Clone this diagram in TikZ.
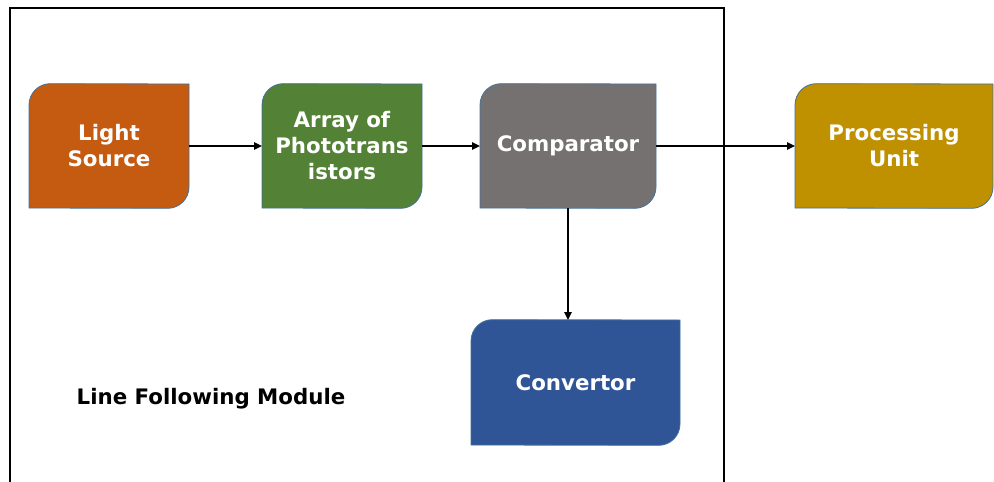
\documentclass[tikz,border=0pt]{standalone}
\usepackage{fontspec}
\setmainfont{DejaVu Sans}
\definecolor{SourceOrange}{HTML}{C55A11}
\definecolor{ArrayGreen}{HTML}{538135}
\definecolor{CompGray}{HTML}{767171}
\definecolor{ConvBlue}{HTML}{2F5597}
\definecolor{UnitGold}{HTML}{BF9000}
\definecolor{EdgeBlue}{HTML}{41719C}
\usetikzlibrary{arrows.meta,positioning,calc}
\pgfdeclarelayer{background}
\pgfsetlayers{background,main}

\tikzset{
  blockbox/.style={minimum height=93pt,inner sep=0pt,outer sep=0pt,
    text=white,align=center,font=\bfseries\fontsize{16}{19.5}\selectfont},
  link/.style={line width=1.4pt,-{Triangle[length=6pt,width=5.5pt]}}
}

\begin{document}
\begin{tikzpicture}[x=0.75pt,y=-0.75pt]
      \useasboundingbox (0,0) rectangle (994,481);
      \draw[line width=1.8pt] (10,500) -- (10,8) -- (724,8) -- (724,500);
      \node[blockbox,minimum width=120pt] (light) at (109,146) {Light\\Source};
      \node[blockbox,minimum width=120pt] (array) at (342,146) {Array of\\Phototrans\\istors};
      \node[blockbox,minimum width=132pt] (comp) at (568,146) {Comparator};
      \node[blockbox,minimum width=148.5pt] (unit) at (894,146) {Processing\\Unit};
      \node[blockbox,minimum width=156.75pt,minimum height=93.75pt] (conv) at (575.5,382.5) {Convertor};
      \node[font=\bfseries\fontsize{16}{19.5}\selectfont] (module) at (211,399) {Line Following Module};
      % block shapes: round top-left and bottom-right corners
      \begin{pgfonlayer}{background}
        \foreach \n/\c in {light/SourceOrange,array/ArrayGreen,comp/CompGray,unit/UnitGold,conv/ConvBlue}
          \filldraw[fill=\c,draw=EdgeBlue,line width=0.6pt]
            (\n.north east) -- ($(\n.south east)+(0,-21)$)
            arc[start angle=0,end angle=-90,radius=16pt]
            -- (\n.south west) -- ($(\n.north west)+(0,21)$)
            arc[start angle=180,end angle=90,radius=16pt] -- cycle;
      \end{pgfonlayer}
      \draw[link] (light) -- (array);
      \draw[link] (array) -- (comp);
      \draw[link] (comp) -- (unit);
      \draw[link] (comp.south) -- (comp.south|-conv.north);
    \end{tikzpicture}
\end{document}
